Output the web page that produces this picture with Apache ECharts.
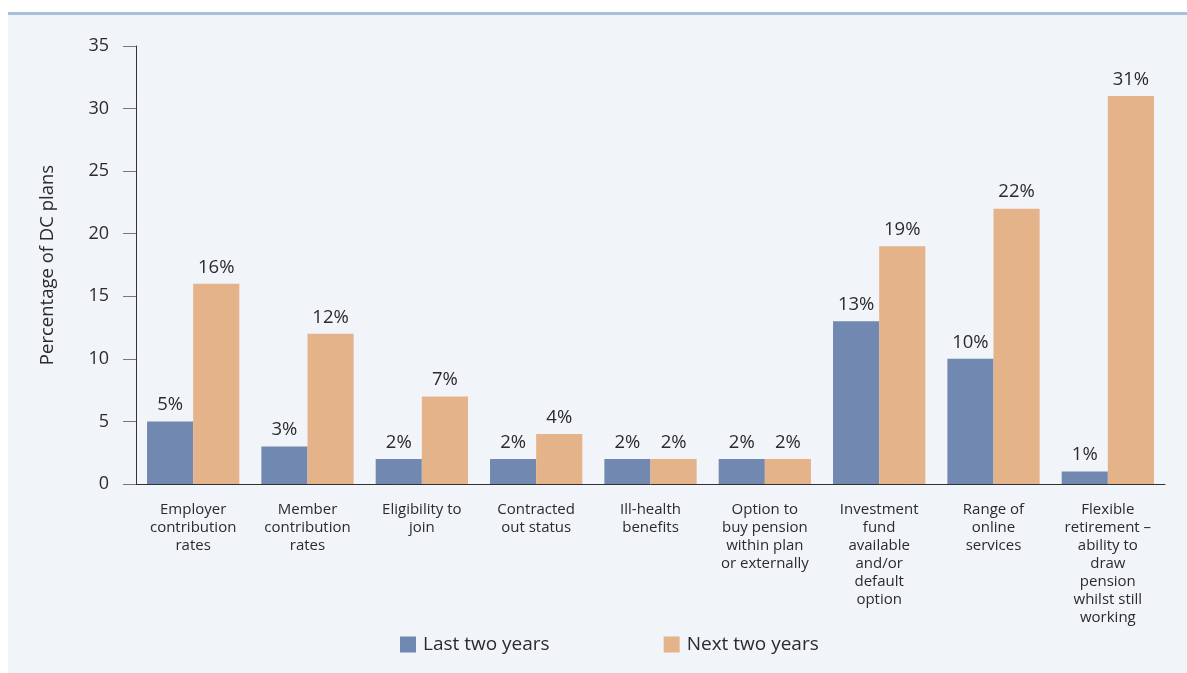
<!DOCTYPE html>
<html>
<head>
<meta charset="utf-8">
<script src="https://cdn.jsdelivr.net/npm/echarts@6/dist/echarts.min.js"></script>
<style>
  html, body { margin: 0; padding: 0; background: #ffffff; }
  #panel {
    position: absolute; left: 8px; top: 12px; width: 1179px; height: 661px;
    background: #f1f4f9; border-top: 3px solid #a9c0dc; box-sizing: border-box;
  }
  #chart { position: absolute; left: 0; top: 0; width: 1187px; height: 673px; }
</style>
</head>
<body>
<div id="panel"></div>
<div id="chart"></div>
<script>
// Plan features changed in the last two years vs. planned for the next two years
const categories = [
  'Employer\ncontribution\nrates',
  'Member\ncontribution\nrates',
  'Eligibility to\njoin',
  'Contracted\nout status',
  'Ill-health\nbenefits',
  'Option to\nbuy pension\nwithin plan\nor externally',
  'Investment\nfund\navailable\nand/or\ndefault\noption',
  'Range of\nonline\nservices',
  'Flexible\nretirement –\nability to\ndraw\npension\nwhilst still\nworking'
];
const lastTwoYears = [5, 3, 2, 2, 2, 2, 13, 10, 1];
const nextTwoYears = [16, 12, 7, 4, 2, 2, 19, 22, 31];
const yTicks = [0, 5, 10, 15, 20, 25, 30, 35];

const FONT = 'Open Sans';
const TEXT = '#2b2b2b';

const chart = echarts.init(document.getElementById('chart'), null, { renderer: 'canvas' });

const valueLabel = {
  show: true,
  position: 'top',
  distance: 7,
  formatter: p => p.value + '%',
  fontFamily: FONT,
  fontSize: 18.5,
  color: TEXT
};

chart.setOption({
  backgroundColor: 'transparent',
  animation: false,
  textStyle: { fontFamily: FONT, color: TEXT },
  grid: { left: 136, right: 22, top: 46, bottom: 189, containLabel: false },
  legend: {
    bottom: 19,
    left: 400,
    padding: 0,
    itemWidth: 16,
    itemHeight: 16,
    itemGap: 114,
    icon: 'rect',
    textStyle: { fontFamily: FONT, fontSize: 19, color: TEXT, padding: [0, 0, 0, 2] },
    data: ['Last two years', 'Next two years']
  },
  xAxis: {
    type: 'category',
    data: categories,
    axisLine: { show: true, lineStyle: { color: '#333', width: 1 } },
    axisTick: { show: false },
    axisLabel: {
      interval: 0,
      margin: 17,
      fontFamily: FONT,
      fontSize: 15,
      lineHeight: 18,
      color: TEXT,
      align: 'center'
    }
  },
  yAxis: {
    type: 'value',
    min: 0,
    max: 35,
    interval: 5,
    name: 'Percentage of DC plans',
    nameLocation: 'middle',
    nameGap: 79,
    nameTextStyle: { fontFamily: FONT, fontSize: 18.5, color: TEXT },
    axisLine: { show: true, lineStyle: { color: '#333', width: 1 } },
    axisTick: { show: true, inside: false, length: 13, lineStyle: { color: '#777' } },
    splitLine: { show: false },
    axisLabel: {
      margin: 27,
      fontFamily: FONT,
      fontSize: 18,
      color: TEXT,
      formatter: v => (yTicks.includes(v) ? String(v) : '')
    }
  },
  series: [
    {
      name: 'Last two years',
      type: 'bar',
      data: lastTwoYears,
      barGap: '0%',
      barCategoryGap: '19.3%',
      itemStyle: { color: '#7189b1' },
      label: valueLabel
    },
    {
      name: 'Next two years',
      type: 'bar',
      data: nextTwoYears,
      barGap: '0%',
      barCategoryGap: '19.3%',
      itemStyle: { color: '#e5b38a' },
      label: valueLabel
    }
  ]
});
</script>
</body>
</html>
